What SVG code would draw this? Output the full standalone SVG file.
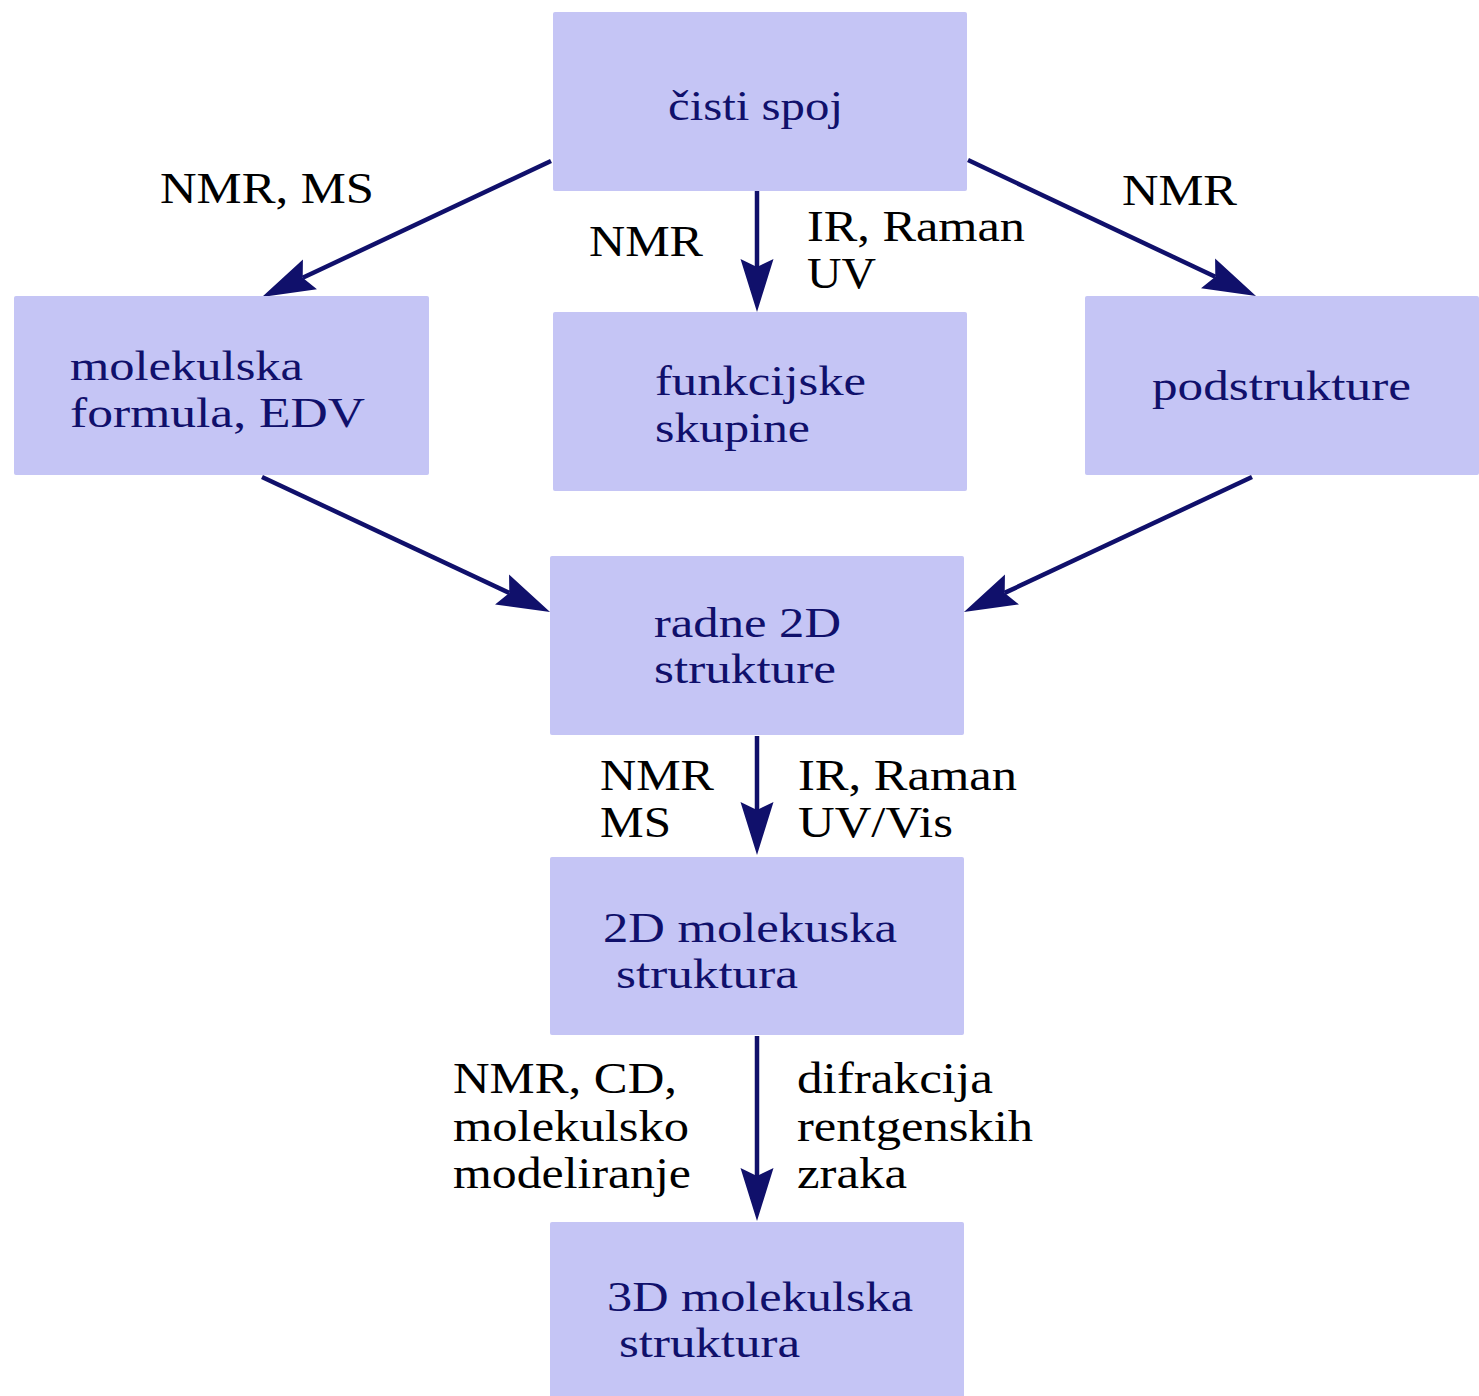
<svg xmlns="http://www.w3.org/2000/svg" width="1479" height="1396" viewBox="0 0 1479 1396">
<style>
.box{fill:#C5C5F5}
.nt{font-family:'Liberation Serif',Tinos,'Times New Roman',Times,'Nimbus Roman','Noto Serif',serif;font-size:43px;fill:#10106B}
.lb{font-family:'Liberation Serif',Tinos,'Times New Roman',Times,'Nimbus Roman','Noto Serif',serif;font-size:45px;fill:#000}
.ar{stroke:#10106B;stroke-width:4.5;fill:none;marker-end:url(#ah)}
</style>
<defs>
<marker id="ah" markerUnits="userSpaceOnUse" viewBox="-10 -20 60 40" markerWidth="60" markerHeight="40" refX="0" refY="0" orient="auto">
<path d="M45,0 L-8,-16.5 L0,0 L-8,16.5 Z" fill="#10106B"/>
</marker>
</defs>
<rect width="1479" height="1396" fill="#fff"/>
<g id="connectors">
<line class="ar" x1="551" y1="161" x2="302.7" y2="277.8"/>
<line class="ar" x1="757" y1="191" x2="757" y2="267"/>
<line class="ar" x1="968" y1="160" x2="1215.3" y2="276.8"/>
<line class="ar" x1="262" y1="477" x2="509.3" y2="592.9"/>
<line class="ar" x1="1252" y1="477" x2="1004.7" y2="592.9"/>
<line class="ar" x1="757" y1="736" x2="757" y2="810"/>
<line class="ar" x1="757" y1="1036" x2="757" y2="1176"/>
</g>
<g id="labels">
<text class="lb" x="160" y="203" textLength="214" lengthAdjust="spacingAndGlyphs">NMR, MS</text>
<text class="lb" x="589" y="256" textLength="114" lengthAdjust="spacingAndGlyphs">NMR</text>
<text class="lb" x="807" y="241" textLength="218" lengthAdjust="spacingAndGlyphs">IR, Raman</text>
<text class="lb" x="807" y="288" textLength="69" lengthAdjust="spacingAndGlyphs">UV</text>
<text class="lb" x="1122" y="205" textLength="115" lengthAdjust="spacingAndGlyphs">NMR</text>
<text class="lb" x="600" y="790" textLength="114" lengthAdjust="spacingAndGlyphs">NMR</text>
<text class="lb" x="600" y="837" textLength="71" lengthAdjust="spacingAndGlyphs">MS</text>
<text class="lb" x="798" y="790" textLength="219" lengthAdjust="spacingAndGlyphs">IR, Raman</text>
<text class="lb" x="798" y="837" textLength="155" lengthAdjust="spacingAndGlyphs">UV/Vis</text>
<text class="lb" x="453" y="1093" textLength="224" lengthAdjust="spacingAndGlyphs">NMR, CD,</text>
<text class="lb" x="453" y="1141" textLength="236" lengthAdjust="spacingAndGlyphs">molekulsko</text>
<text class="lb" x="453" y="1188" textLength="238" lengthAdjust="spacingAndGlyphs">modeliranje</text>
<text class="lb" x="797" y="1093" textLength="196" lengthAdjust="spacingAndGlyphs">difrakcija</text>
<text class="lb" x="797" y="1141" textLength="236" lengthAdjust="spacingAndGlyphs">rentgenskih</text>
<text class="lb" x="797" y="1188" textLength="110" lengthAdjust="spacingAndGlyphs">zraka</text>
</g>
<g id="n-cisti">
<rect class="box" x="553" y="12" width="414" height="179" rx="2"/>
<text class="nt" x="668" y="120" textLength="175" lengthAdjust="spacingAndGlyphs">čisti spoj</text>
</g>
<g id="n-molekulska">
<rect class="box" x="14" y="296" width="415" height="179" rx="2"/>
<text class="nt" x="70" y="380" textLength="233" lengthAdjust="spacingAndGlyphs">molekulska</text>
<text class="nt" x="70" y="427" textLength="295" lengthAdjust="spacingAndGlyphs">formula, EDV</text>
</g>
<g id="n-funkcijske">
<rect class="box" x="553" y="312" width="414" height="179" rx="2"/>
<text class="nt" x="655" y="395" textLength="211" lengthAdjust="spacingAndGlyphs">funkcijske</text>
<text class="nt" x="655" y="442" textLength="155" lengthAdjust="spacingAndGlyphs">skupine</text>
</g>
<g id="n-podstrukture">
<rect class="box" x="1085" y="296" width="394" height="179" rx="2"/>
<text class="nt" x="1152" y="400" textLength="259" lengthAdjust="spacingAndGlyphs">podstrukture</text>
</g>
<g id="n-radne">
<rect class="box" x="550" y="556" width="414" height="179" rx="2"/>
<text class="nt" x="654" y="637" textLength="187" lengthAdjust="spacingAndGlyphs">radne 2D</text>
<text class="nt" x="654" y="683" textLength="182" lengthAdjust="spacingAndGlyphs">strukture</text>
</g>
<g id="n-2d">
<rect class="box" x="550" y="857" width="414" height="178" rx="2"/>
<text class="nt" x="603" y="942" textLength="294" lengthAdjust="spacingAndGlyphs">2D molekuska</text>
<text class="nt" x="616" y="988" textLength="182" lengthAdjust="spacingAndGlyphs">struktura</text>
</g>
<g id="n-3d">
<rect class="box" x="550" y="1222" width="414" height="180" rx="2"/>
<text class="nt" x="607" y="1311" textLength="306" lengthAdjust="spacingAndGlyphs">3D molekulska</text>
<text class="nt" x="619" y="1357" textLength="181" lengthAdjust="spacingAndGlyphs">struktura</text>
</g>
</svg>
